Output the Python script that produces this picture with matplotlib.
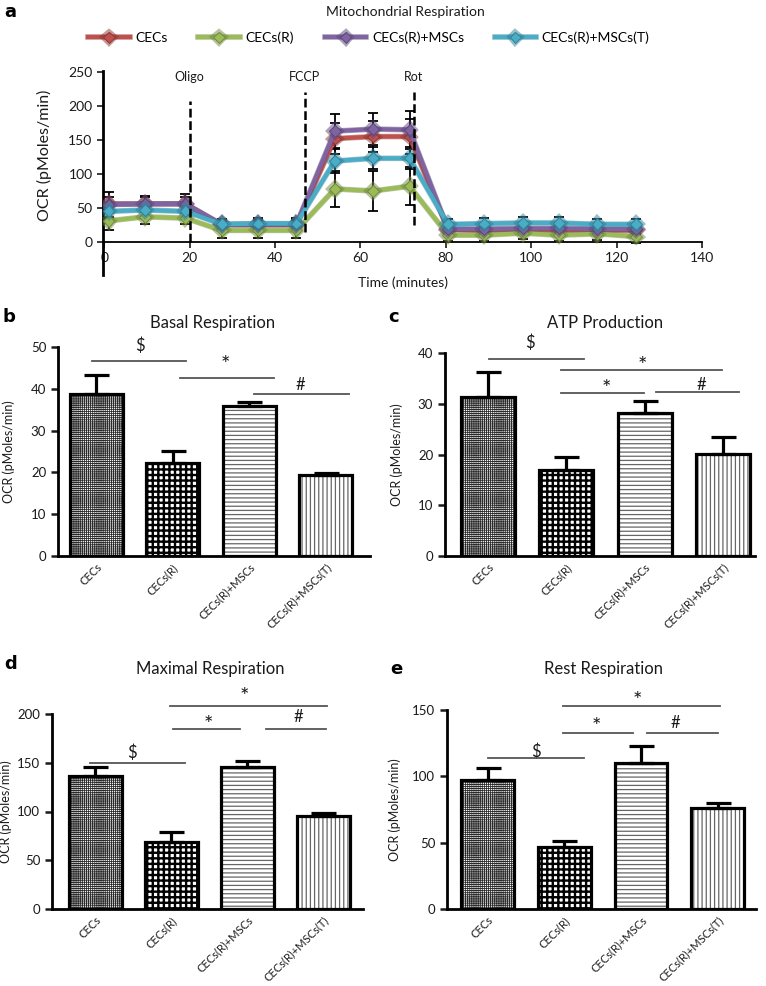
import matplotlib
matplotlib.use("Agg")
import matplotlib.pyplot as plt
import matplotlib.patheffects as pe
import numpy as np

plt.rcParams['font.family'] = ['Lato', 'DejaVu Sans']

W, H = 766, 986

# ---------------- Panel a data ----------------
time_min = [1, 9.5, 19, 27.5, 36, 45, 54, 63, 71.5, 80.5, 89, 98, 106.5, 115.5, 124.5]
series_names = ["CECs", "CECs(R)", "CECs(R)+MSCs", "CECs(R)+MSCs(T)"]
ocr_cecs = [56, 56, 56, 25, 25, 25, 152, 155, 155, 18, 17, 18, 17, 17, 17]
ocr_cecs_r = [31, 37, 35, 17, 17, 17, 78, 75, 82, 10, 10, 13, 10, 12, 8]
ocr_msc = [55, 56, 56, 26, 26, 26, 163, 166, 165, 19, 19, 20, 20, 19, 19]
ocr_msc_t = [45, 47, 45, 26, 27, 27, 119, 123, 123, 26, 27, 28, 28, 26, 26]
err_cecs = [10, 10, 10, 6, 6, 6, 23, 23, 26, 6, 6, 6, 6, 6, 6]
err_cecs_r = [13, 11, 8, 11, 11, 11, 26, 30, 28, 9, 9, 9, 9, 9, 9]
err_msc = [18, 12, 14, 8, 8, 8, 25, 24, 28, 7, 7, 7, 7, 7, 7]
err_msc_t = [10, 10, 10, 8, 8, 8, 17, 16, 16, 8, 8, 8, 8, 8, 8]
injections = ["Oligo", "FCCP", "Rot"]
injection_times = [20, 47, 72.5]
injection_ranges = [(0, 208), (15, 220), (25, 220)]
line_colors = ["#C0504D", "#9BBB59", "#8064A2", "#4BACC6"]
dark_colors = ["#8E3634", "#71893E", "#5C4779", "#2F8199"]

# ---------------- Bar panels data ----------------
groups = ["CECs", "CECs(R)", "CECs(R)+MSCs", "CECs(R)+MSCs(T)"]
basal = [38.8, 22.3, 36.0, 19.4]
basal_err = [4.4, 2.9, 0.8, 0.5]
atp = [31.3, 17.0, 28.2, 20.1]
atp_err = [4.9, 2.5, 2.3, 3.3]
maximal = [136.5, 68.6, 146.0, 95.6]
maximal_err = [8.9, 9.9, 6.0, 2.8]
rest = [97.3, 46.4, 109.9, 76.0]
rest_err = [8.8, 4.5, 13.0, 3.8]

fig = plt.figure(figsize=(W / 100, H / 100), dpi=100)
TXT = '#1a1a1a'

def fx(px):
    return px / W

def fy(py):
    return 1 - py / H

# ================= Panel a =================
axa = fig.add_axes([fx(103), fy(274.6), fx(599), 204 / H])
ys = [ocr_cecs, ocr_cecs_r, ocr_msc, ocr_msc_t]
es = [err_cecs, err_cecs_r, err_msc, err_msc_t]
handles = []
for name, y, e in zip(series_names, ys, es):
    axa.errorbar(time_min, y, yerr=e, fmt='none', ecolor='black', elinewidth=1.3,
                 capsize=3.5, capthick=1.3, zorder=2)
for name, y, c, dc in zip(series_names, ys, line_colors, dark_colors):
    ln, = axa.plot(time_min, y, color=c, lw=3.0, marker='D', markersize=6,
                   markerfacecolor=c, markeredgecolor=dc, markeredgewidth=0.7,
                   zorder=3, label=name,
                   path_effects=[pe.Stroke(linewidth=4.0, foreground=dc, alpha=0.5), pe.Normal()])
    handles.append(ln)
for lab, t, (y0, y1) in zip(injections, injection_times, injection_ranges):
    axa.plot([t, t], [y0, y1], color='black', lw=1.8, ls=(0, (3.5, 1.5)), zorder=4)
    axa.text(t, 242, lab, ha='center', va='center', fontsize=9, color=TXT)
axa.set_xlim(-0.3, 140)
axa.set_ylim(-48, 252)
axa.spines['top'].set_visible(False)
axa.spines['right'].set_visible(False)
axa.spines['bottom'].set_position(('data', 0))
axa.spines['left'].set_linewidth(2.0)
axa.spines['bottom'].set_linewidth(1.3)
axa.set_xticks(np.arange(0, 141, 20))
axa.set_yticks(np.arange(0, 251, 50))
axa.tick_params(axis='both', labelsize=10, colors=TXT, width=1.2, length=4)
axa.tick_params(axis='x', direction='out', pad=3)
axa.set_xlabel("Time (minutes)", fontsize=10, color=TXT)
axa.xaxis.set_label_coords((403 - 103) / 599, (274.6 - 276) / 204)
axa.set_ylabel("OCR (pMoles/min)", fontsize=11.5, color=TXT)
axa.yaxis.set_label_coords((52 - 103) / 599, (274.6 - 155) / 204)
fig.text(fx(405), fy(12), "Mitochondrial Respiration", ha='center', va='center',
         fontsize=10, color=TXT)
fig.legend(handles=handles, loc='center', bbox_to_anchor=(fx(369), fy(38)), ncol=4,
           frameon=False, fontsize=10, handlelength=3.0, columnspacing=2.2,
           handletextpad=0.4, markerscale=1.0)
fig.text(fx(4), fy(3), "a", ha='left', va='top', fontsize=13, fontweight='bold',
         family=['DejaVu Sans'])

# ================= Bar panels =================
hatches = ['++++++++', '+++', '----', '||||']
hatch_colors = ['#2a2a2a', '#000000', '#666666', '#666666']
hatch_lws = [0.6, 1.7, 0.9, 0.9]


def bar_panel(rect, vals, errs, title, yticks, ylim_top, xlim, letter, letter_px,
              title_px, ylab_x, annots):
    ax = fig.add_axes(rect)
    x = np.arange(len(groups))
    for i in range(len(groups)):
        b = ax.bar(x[i], vals[i], width=0.69, facecolor='white', edgecolor=hatch_colors[i],
                   linewidth=0, hatch=hatches[i], zorder=2)
        for p in b.patches:
            if hasattr(p, 'set_hatch_linewidth'):
                p.set_hatch_linewidth(hatch_lws[i])
    ax.bar(x, vals, width=0.69, fill=False, edgecolor='black', linewidth=2.3, zorder=3)
    ax.errorbar(x, vals, yerr=[np.zeros(len(vals)), errs], fmt='none', ecolor='black',
                elinewidth=2.3, capsize=9, capthick=2.3, zorder=3)
    ax.set_xlim(*xlim)
    ax.set_ylim(0, ylim_top)
    ax.set_yticks(yticks)
    ax.spines['top'].set_visible(False)
    ax.spines['right'].set_visible(False)
    ax.spines['left'].set_linewidth(2.0)
    ax.spines['bottom'].set_linewidth(2.0)
    ax.spines['left'].set_bounds(0, yticks[-1])
    ax.set_xticks(x)
    ax.set_xticklabels(groups, rotation=45, ha='right', rotation_mode='anchor',
                       fontsize=8, color=TXT)
    ax.tick_params(axis='x', length=0, pad=4)
    ax.tick_params(axis='y', labelsize=9.5, colors=TXT, width=1.8, length=5)
    ax.set_ylabel("OCR (pMoles/min)", fontsize=9, color=TXT)
    ax.yaxis.set_label_coords(ylab_x, 0.5)
    fig.text(fx(title_px[0]), fy(title_px[1]), title, ha='center', va='center',
             fontsize=12, color=TXT)
    fig.text(fx(letter_px[0]), fy(letter_px[1]), letter, ha='left', va='top',
             fontsize=13, fontweight='bold', family=['DejaVu Sans'])
    for sym, x0, x1, yl, tx, ty in annots:
        ax.plot([x0, x1], [yl, yl], color='#555555', lw=1.3, clip_on=False, zorder=4)
        ax.text(tx, ty, sym, ha='center', va='center', fontsize=12 if sym != '*' else 16,
                color=TXT, clip_on=False)
    return ax


# b
bar_panel([fx(58), fy(556), fx(312), 209 / H], basal, basal_err, "Basal Respiration",
          [0, 10, 20, 30, 40, 50], 50, (-0.5, 3.58), "b", (2, 308), (213, 323), -0.138,
          [("$", -0.06, 1.18, 46.7, 0.57, 50.2),
           ("*", 1.10, 2.32, 42.7, 1.69, 45.8),
           ("#", 2.06, 3.30, 38.7, 2.67, 41.0)])
# c
bar_panel([fx(445), fy(556), fx(310), 203 / H], atp, atp_err, "ATP Production",
          [0, 10, 20, 30, 40], 40, (-0.55, 3.41), "c", (388, 308), (605, 323), -0.135,
          [("$", 0.01, 1.23, 38.9, 0.53, 42.0),
           ("*", 0.93, 2.99, 36.7, 1.97, 37.4),
           ("*", 0.93, 1.99, 32.2, 1.51, 33.0),
           ("#", 2.14, 3.20, 32.3, 2.72, 33.75)])
# d
bar_panel([fx(52), fy(909), fx(311), 195 / H], maximal, maximal_err, "Maximal Respiration",
          [0, 50, 100, 150, 200], 200, (-0.57, 3.52), "d", (4, 655), (210, 669), -0.129,
          [("$", -0.07, 1.18, 149.5, 0.48, 160.0),
           ("*", 0.98, 3.04, 208.5, 1.96, 217.5),
           ("*", 1.02, 1.90, 184.6, 1.49, 189.0),
           ("#", 2.24, 3.03, 184.6, 2.67, 196.6)])
# e
bar_panel([fx(447), fy(909), fx(309), 199 / H], rest, rest_err, "Rest Respiration",
          [0, 50, 100, 150], 150, (-0.53, 3.5), "e", (390, 660), (603, 669), -0.149,
          [("$", 0.00, 1.26, 113.6, 0.63, 118.6),
           ("*", 0.98, 3.03, 153.2, 1.95, 156.5),
           ("*", 0.98, 1.90, 132.4, 1.42, 137.5),
           ("#", 2.08, 3.00, 132.4, 2.45, 140.0)])

fig.savefig("out.png", dpi=100)
